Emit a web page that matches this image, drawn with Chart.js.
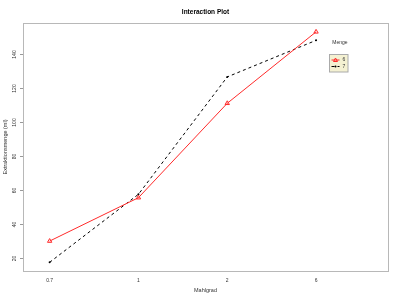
<!DOCTYPE html>
<html><head><meta charset="utf-8">
<script src="https://cdn.jsdelivr.net/npm/chart.js@4"></script>
<style>html,body{margin:0;padding:0;background:#fff}#wrap{width:400px;height:300px}</style>
</head><body><div id="wrap"><canvas id="c" width="400" height="300"></canvas></div>
<script>
const categories = ['0.7', '1', '2', '6'];
const series6 = [30, 55.5, 111, 153];
const series7 = [17.5, 57.5, 126.5, 148];
const yTicks = [20, 40, 60, 80, 100, 120, 140];
const seriesNames = ['6', '7'];
const titleText = 'Interaction Plot';
const xTitle = 'Mahlgrad';
const yTitle = 'Extraktionsmenge (ml)';
const legendTitle = 'Menge';

const toPts = arr => arr.map((v, i) => ({x: i + 1, y: v}));
const FONT = 'Liberation Sans, Arial, sans-serif';

const custom = {
  id: 'custom',
  afterDraw(chart) {
    const ctx = chart.ctx, ca = chart.chartArea;
    const xs = chart.scales.x, ys = chart.scales.y;
    ctx.save();
    // frame
    ctx.strokeStyle = '#b8b8b8'; ctx.lineWidth = 1;
    ctx.strokeRect(Math.round(ca.left) + 0.5, Math.round(ca.top) + 0.5, Math.round(ca.right - ca.left), Math.round(ca.bottom - ca.top));
    // y ticks
    ctx.fillStyle = '#333'; ctx.font = '5px ' + FONT;
    ctx.strokeStyle = '#999';
    yTicks.forEach(t => {
      const py = Math.round(ys.getPixelForValue(t)) + 0.5;
      ctx.beginPath(); ctx.moveTo(ca.left - 3, py); ctx.lineTo(ca.left, py); ctx.stroke();
      ctx.save(); ctx.translate(ca.left - 8, py); ctx.rotate(-Math.PI / 2);
      ctx.textAlign = 'center'; ctx.textBaseline = 'middle'; ctx.fillText(String(t), 0, 0); ctx.restore();
    });
    // x labels
    ctx.textAlign = 'center'; ctx.textBaseline = 'middle';
    categories.forEach((c, i) => {
      ctx.fillText(c, xs.getPixelForValue(i + 1), ca.bottom + 10);
    });
    // axis titles
    ctx.font = '5.5px ' + FONT;
    ctx.fillText(xTitle, (ca.left + ca.right) / 2, ca.bottom + 19);
    ctx.save(); ctx.translate(5, (ca.top + ca.bottom) / 2); ctx.rotate(-Math.PI / 2);
    ctx.fillText(yTitle, 0, 0); ctx.restore();
    // title
    ctx.fillStyle = '#000'; ctx.font = 'bold 6.5px ' + FONT;
    ctx.fillText(titleText, (ca.left + ca.right) / 2, 12);
    // legend
    const lx = 329.5, ly = 54.5, lw = 18.5, lh = 17.5;
    ctx.font = '5px ' + FONT; ctx.fillStyle = '#333';
    ctx.fillText(legendTitle, 340, 43);
    ctx.fillStyle = '#f4f1d2'; ctx.fillRect(lx, ly, lw, lh);
    ctx.strokeStyle = '#aaa'; ctx.strokeRect(lx, ly, lw, lh);
    chart.data.datasets.forEach((ds, i) => {
      const yy = ly + 5.5 + i * 6.5;
      ctx.strokeStyle = ds.borderColor; ctx.lineWidth = 1;
      ctx.setLineDash(ds.borderDash || []);
      ctx.beginPath(); ctx.moveTo(lx + 2, yy); ctx.lineTo(lx + 10, yy); ctx.stroke();
      ctx.setLineDash([]);
      if (ds.pointStyle === 'triangle') {
        ctx.beginPath(); ctx.moveTo(lx + 6, yy - 2); ctx.lineTo(lx + 8, yy + 1.5); ctx.lineTo(lx + 4, yy + 1.5); ctx.closePath(); ctx.stroke();
      } else {
        ctx.fillStyle = ds.borderColor; ctx.beginPath(); ctx.arc(lx + 6, yy, 1, 0, Math.PI * 2); ctx.fill();
      }
      ctx.fillStyle = '#333'; ctx.fillText(ds.label, lx + 14.5, yy);
    });
    ctx.restore();
  }
};

new Chart(document.getElementById('c'), {
  type: 'line',
  data: {
    datasets: [
      { label: seriesNames[0], data: toPts(series6), borderColor: '#ff2a2a', backgroundColor: 'rgba(0,0,0,0)',
        borderWidth: 1, pointStyle: 'triangle', pointRadius: 2.5, pointBorderWidth: 1, tension: 0 },
      { label: seriesNames[1], data: toPts(series7), borderColor: '#000000', backgroundColor: '#000000',
        borderWidth: 1, borderDash: [3, 3], pointStyle: 'circle', pointRadius: 1, pointBorderWidth: 0, tension: 0 }
    ]
  },
  options: {
    responsive: false, animation: false, devicePixelRatio: 1,
    layout: { padding: { left: 23, right: 12, top: 23, bottom: 29 } },
    plugins: { legend: { display: false }, title: { display: false }, tooltip: { enabled: false } },
    scales: {
      x: { type: 'linear', min: 0.7, max: 4.81, display: false },
      y: { type: 'linear', min: 12.4, max: 158.2, display: false }
    }
  },
  plugins: [custom]
});
</script></body></html>
